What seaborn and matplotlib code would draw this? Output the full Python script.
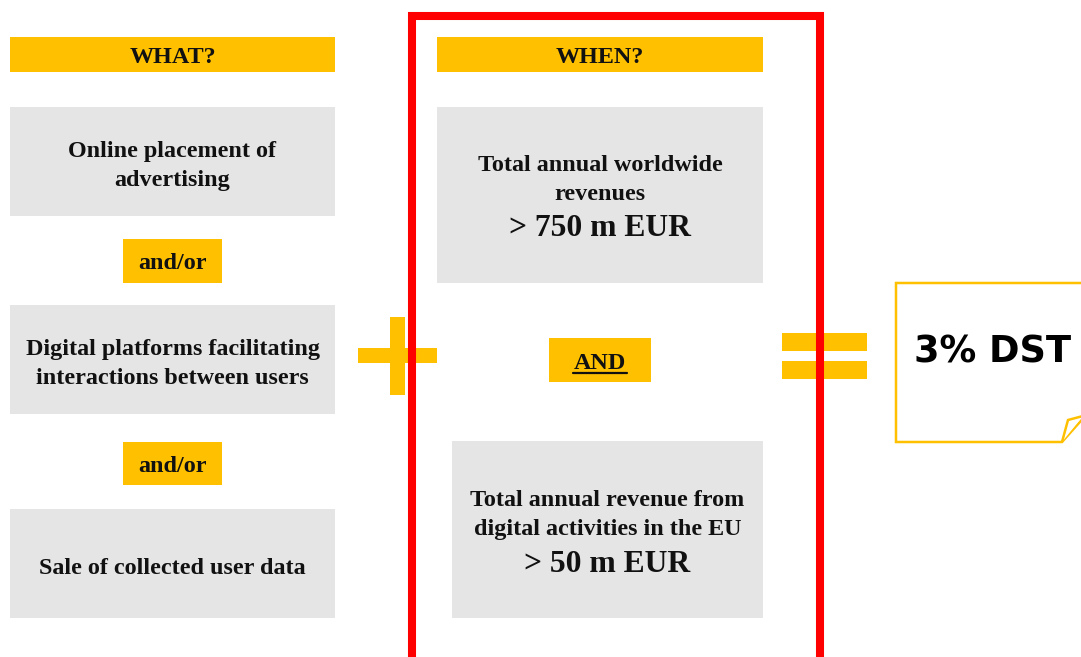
import matplotlib
matplotlib.use("Agg")
import matplotlib.pyplot as plt
import seaborn as sns
from matplotlib.patches import Rectangle, Polygon
from matplotlib.lines import Line2D

# ---- content ----
what_header = "WHAT?"
when_header = "WHEN?"
what_items = ["Online placement of\nadvertising",
              "Digital platforms facilitating\ninteractions between users",
              "Sale of collected user data"]
connector_what = ["and/or", "and/or"]
when_labels = ["Total annual worldwide\nrevenues",
               "Total annual revenue from\ndigital activities in the EU"]
when_thresholds = ["> 750 m EUR", "> 50 m EUR"]
connector_when = "AND"
result_label = "3% DST"

# ---- style ----
YELLOW = "#FFC000"
GREY = "#E5E5E5"
RED = "#FF0000"
SERIF = ["Liberation Serif", "DejaVu Serif"]
FS = 17.4
FS_BIG = 22.8
PITCH = 29

sns.set_theme(style="white")
plt.rcParams["font.family"] = ["DejaVu Sans"]

W, H = 1081, 657
fig = plt.figure(figsize=(W / 100, H / 100), dpi=100)
ax = fig.add_axes([0, 0, 1, 1])
ax.set_xlim(0, W)
ax.set_ylim(H, 0)
ax.axis("off")


def box(x0, y0, x1, y1, color, z=1):
    ax.add_patch(Rectangle((x0, y0), x1 - x0, y1 - y0, facecolor=color,
                           edgecolor="none", zorder=z))


def txt(x, y, s, size=FS, family=SERIF):
    ax.text(x, y, s, ha="center", va="center_baseline", fontsize=size,
            fontweight="bold", family=family, color="#111111", zorder=5)


def lines(x, yc, s, size=FS):
    parts = s.split("\n")
    n = len(parts)
    for i, p in enumerate(parts):
        txt(x, yc + (i - (n - 1) / 2) * PITCH, p, size)


# left column
box(10, 37, 335, 72, YELLOW)
txt(172.5, 55, what_header)
what_boxes = [(107, 216), (305, 414), (509, 618)]
for (y0, y1), label in zip(what_boxes, what_items):
    box(10, y0, 335, y1, GREY)
    lines(172.5, (y0 + y1) / 2 + 2, label)
conn_boxes = [(239, 283), (442, 485)]
for (y0, y1), label in zip(conn_boxes, connector_what):
    box(123, y0, 222, y1, YELLOW)
    txt(172.5, (y0 + y1) / 2, label)

# plus sign
box(358, 348, 437, 363, YELLOW)
box(390, 317, 405, 395, YELLOW)

# middle column
box(437, 37, 763, 72, YELLOW)
txt(600, 55, when_header)
box(437, 107, 763, 283, GREY)
lines(600, 177.5, when_labels[0])
txt(600, 225, when_thresholds[0], FS_BIG)
box(549, 338, 651, 382, YELLOW)
txt(600, 361, connector_when)
ax.add_line(Line2D([573, 627], [373, 373], color="#111111", lw=1.6, zorder=6))
box(452, 441, 763, 618, GREY)
lines(607.5, 512.5, when_labels[1])
txt(607.5, 561, when_thresholds[1], FS_BIG)

# equals sign
box(782, 333, 867, 351, YELLOW)
box(782, 361, 867, 379, YELLOW)

# red frame (open at the bottom edge of the canvas)
ax.add_line(Line2D([411.5, 411.5, 819.5, 819.5], [720, 15.5, 15.5, 720],
                   color=RED, lw=5.8, zorder=10, solid_joinstyle="miter",
                   solid_capstyle="butt"))

# result note with folded corner
ax.add_patch(Polygon([(896, 283), (1095, 283), (1095, 405), (1062, 442),
                      (896, 442)], closed=True, facecolor="white",
                     edgecolor=YELLOW, lw=1.8, zorder=3))
ax.add_patch(Polygon([(1062, 442), (1068, 420), (1083, 416)], closed=False,
                     facecolor="white", edgecolor=YELLOW, lw=1.8, zorder=4))
ax.text(993, 348, result_label, ha="center", va="center_baseline",
        fontsize=26.5, fontweight="bold", family=["DejaVu Sans"],
        color="black", zorder=5)

fig.savefig("out.png", dpi=100)
